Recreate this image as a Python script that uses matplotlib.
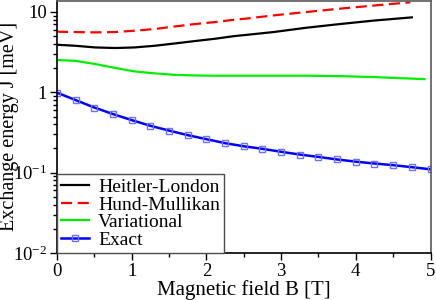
# exchange energy vs magnetic field, log y
import matplotlib
matplotlib.use('Agg')
import matplotlib.pyplot as plt
from matplotlib.ticker import FixedLocator, NullFormatter

plt.rcParams['font.family'] = ['Liberation Serif', 'DejaVu Serif']
plt.rcParams['mathtext.fontset'] = 'custom'
plt.rcParams['mathtext.rm'] = 'Liberation Serif'

# Heitler-London (black)
B_hl = [0, 0.24, 0.51, 0.78, 1.04, 1.31, 1.58, 1.85, 2.12, 2.38, 2.52, 2.90, 3.34, 3.79, 4.23, 4.75]
J_hl = [3.91, 3.80, 3.62, 3.56, 3.62, 3.80, 4.06, 4.35, 4.65, 5.02, 5.17, 5.63, 6.37, 7.08, 7.80, 8.57]
# Hund-Mullikan (red dashed)
B_hm = [0, 0.24, 0.51, 0.78, 1.04, 1.31, 1.58, 1.85, 2.12, 2.38, 2.52, 2.90, 3.34, 3.79, 4.23, 4.73]
J_hm = [5.68, 5.63, 5.57, 5.63, 5.85, 6.14, 6.61, 7.08, 7.50, 8.02, 8.25, 9.07, 10.0, 11.0, 12.0, 13.2]
# Variational (green)
B_var = [0, 0.24, 0.51, 0.78, 1.04, 1.31, 1.58, 1.85, 2.12, 2.45, 3.34, 3.79, 4.23, 4.68, 4.92]
J_var = [2.52, 2.47, 2.25, 2.01, 1.82, 1.72, 1.65, 1.62, 1.61, 1.61, 1.61, 1.59, 1.55, 1.49, 1.46]
# Exact (blue squares)
B_ex = [0, 0.25, 0.5, 0.75, 1.0, 1.25, 1.5, 1.75, 2.0, 2.25, 2.5,
        2.75, 3.0, 3.25, 3.5, 3.75, 4.0, 4.25, 4.5, 4.75, 5.0]
J_ex = [0.99, 0.80, 0.647, 0.536, 0.451, 0.383, 0.334, 0.293, 0.261, 0.233, 0.213,
        0.198, 0.182, 0.168, 0.157, 0.146, 0.137, 0.130, 0.124, 0.117, 0.110]

fig = plt.figure(figsize=(4.36, 3.0), dpi=100)
ax = fig.add_axes([57/436, 47/300, 373.5/436, 252/300])

ax.plot(B_hl, J_hl, color='black', lw=1.6, label='Heitler-London')
ax.plot(B_hm, J_hm, color='#ff0000', lw=1.6, dashes=(5, 2.5), label='Hund-Mullikan')
ax.plot(B_var, J_var, color='#00ee00', lw=1.6, label='Variational')
ax.plot(B_ex, J_ex, color='#0000ff', lw=1.8, marker='s', ms=5, mfc='none',
        mec='#7070ff', mew=1.0, label='Exact')

ax.set_yscale('log')
ax.set_xlim(0, 5)
ax.set_ylim(0.01, 13.7)

ax.set_xticks([0, 1, 2, 3, 4, 5])
ax.set_xticks([0.5, 1.5, 2.5, 3.5, 4.5], minor=True)
ax.yaxis.set_major_locator(FixedLocator([0.01, 0.1, 1, 10]))
ax.set_yticklabels([r'$\mathregular{10^{-2}}$', r'$\mathregular{10^{-1}}$', '1', '10'])
minors = [m * d for d in [0.01, 0.1, 1] for m in range(2, 10)]
ax.yaxis.set_minor_locator(FixedLocator(minors))
ax.yaxis.set_minor_formatter(NullFormatter())

ax.tick_params(which='major', direction='out', length=5, width=1, labelsize=13.5, pad=2)
ax.tick_params(which='minor', direction='out', length=3, width=1)
ax.tick_params(top=False, right=False, which='both')

for s in ['top', 'right']:
    ax.spines[s].set_color('0.35')
for s in ax.spines.values():
    s.set_linewidth(1.2)

ax.set_xlabel('Magnetic field B [T]', fontsize=15, labelpad=0)
ax.set_ylabel('Exchange energy J [meV]', fontsize=14.5)
ax.yaxis.set_label_coords(-0.103, 0.504)

leg = ax.legend(loc='lower left', borderaxespad=0, fontsize=14, fancybox=False,
                framealpha=1, edgecolor='0.3', handlelength=1.45, handletextpad=0.45,
                borderpad=0.22, labelspacing=0.0)
leg.get_frame().set_linewidth(1.0)

fig.savefig('out.png', dpi=100)
